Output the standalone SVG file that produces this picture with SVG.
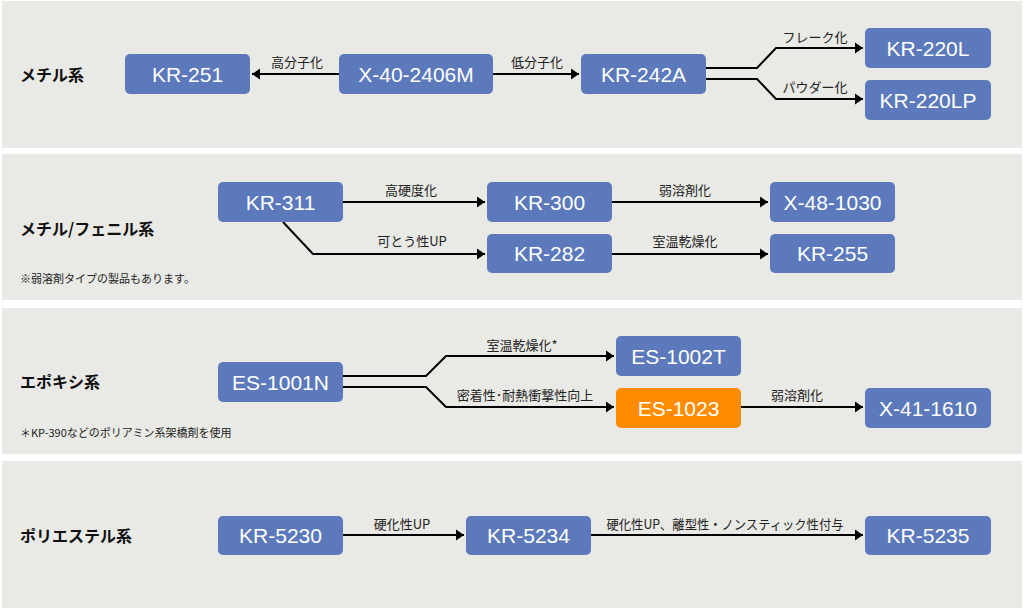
<svg xmlns="http://www.w3.org/2000/svg" width="1024" height="609" viewBox="0 0 1024 609">
<defs>
<style>
.panel{fill:#e9e9e5}
.n rect{fill:#5b79bb;rx:5;ry:5}
.n.o rect{fill:#fe8b00}
.n text{fill:#fff;font-family:"Liberation Sans","Noto Sans",Arial,sans-serif;font-size:21px;text-anchor:middle}
.cat{font-family:"Noto Sans CJK JP","Noto Sans",sans-serif;font-size:16px;font-weight:bold;fill:#111}
.note{font-family:"Noto Sans CJK JP","Noto Sans",sans-serif;font-size:11px;fill:#222}
.lbl{font-family:"Noto Sans CJK JP","Noto Sans",sans-serif;font-size:13px;fill:#222;text-anchor:middle}
.c path{fill:none;stroke:#000;stroke-width:2}
.c path.a{marker-end:url(#ah)}
</style>
<marker id="ah" markerUnits="userSpaceOnUse" markerWidth="9" markerHeight="12" refX="8" refY="6" orient="auto">
<path d="M0,0.5 L8,6 L0,11.5 z" fill="#000"/>
</marker>
</defs>
<rect width="1024" height="609" fill="#fff"/>
<rect class="panel" x="2" y="1" width="1020" height="147"/>
<rect class="panel" x="2" y="154" width="1020" height="146"/>
<rect class="panel" x="2" y="308" width="1020" height="146"/>
<rect class="panel" x="2" y="461" width="1020" height="147"/>

<g id="categories">
<text class="cat" x="20" y="81">メチル系</text>
<text class="cat" x="20" y="235">メチル/フェニル系</text>
<text class="note" x="20" y="283">※弱溶剤タイプの製品もあります。</text>
<text class="cat" x="20" y="388">エポキシ系</text>
<text class="note" x="20" y="437">＊KP-390などのポリアミン系架橋剤を使用</text>
<text class="cat" x="20" y="542">ポリエステル系</text>
</g>

<g id="connectors" class="c">
<path class="a" d="M339,74 H252"/>
<path class="a" d="M493,74 H579"/>
<path d="M706,68 H757 L776,48 H863" class="a"/>
<path d="M706,79 H757 L776,99 H863" class="a"/>
<path class="a" d="M343,202 H485"/>
<path class="a" d="M283,222 L313,254 H485"/>
<path class="a" d="M612,202 H768"/>
<path class="a" d="M612,254 H768"/>
<path class="a" d="M343,376 H426 L446,356 H614"/>
<path class="a" d="M343,387 H426 L446,407 H614"/>
<path class="a" d="M741,407 H863"/>
<path class="a" d="M343,535 H464"/>
<path class="a" d="M591,535 H863"/>
</g>

<g id="labels">
<text class="lbl" x="297" y="67">高分子化</text>
<text class="lbl" x="537" y="67">低分子化</text>
<text class="lbl" x="815" y="42">フレーク化</text>
<text class="lbl" x="815" y="92">パウダー化</text>
<text class="lbl" x="411" y="195">高硬度化</text>
<text class="lbl" x="412" y="246">可とう性UP</text>
<text class="lbl" x="685" y="195">弱溶剤化</text>
<text class="lbl" x="685" y="246">室温乾燥化</text>
<text class="lbl" x="522" y="350">室温乾燥化*</text>
<text class="lbl" x="525" y="400">密着性･耐熱衝撃性向上</text>
<text class="lbl" x="797" y="400">弱溶剤化</text>
<text class="lbl" x="402" y="529">硬化性UP</text>
<text class="lbl" x="725" y="529" textLength="237" lengthAdjust="spacingAndGlyphs">硬化性UP、離型性・ノンスティック性付与</text>
</g>

<g id="KR-251" class="n"><rect x="125" y="54" width="125" height="40"/><text x="187.5" y="82">KR-251</text></g>
<g id="X-40-2406M" class="n"><rect x="339" y="54" width="154" height="40"/><text x="416" y="82">X-40-2406M</text></g>
<g id="KR-242A" class="n"><rect x="581" y="54" width="125" height="40"/><text x="643.5" y="82">KR-242A</text></g>
<g id="KR-220L" class="n"><rect x="865" y="28" width="126" height="40"/><text x="928" y="56">KR-220L</text></g>
<g id="KR-220LP" class="n"><rect x="865" y="80" width="126" height="40"/><text x="928" y="108">KR-220LP</text></g>

<g id="KR-311" class="n"><rect x="218" y="182" width="125" height="40"/><text x="280.5" y="210">KR-311</text></g>
<g id="KR-300" class="n"><rect x="487" y="182" width="125" height="40"/><text x="549.5" y="210">KR-300</text></g>
<g id="KR-282" class="n"><rect x="487" y="234" width="125" height="39"/><text x="549.5" y="261">KR-282</text></g>
<g id="X-48-1030" class="n"><rect x="770" y="182" width="125" height="40"/><text x="832.5" y="210">X-48-1030</text></g>
<g id="KR-255" class="n"><rect x="770" y="234" width="125" height="39"/><text x="832.5" y="261">KR-255</text></g>

<g id="ES-1001N" class="n"><rect x="218" y="362" width="125" height="40"/><text x="280.5" y="390">ES-1001N</text></g>
<g id="ES-1002T" class="n"><rect x="616" y="336" width="125" height="40"/><text x="678.5" y="364">ES-1002T</text></g>
<g id="ES-1023" class="n o"><rect x="616" y="388" width="125" height="40"/><text x="678.5" y="416">ES-1023</text></g>
<g id="X-41-1610" class="n"><rect x="865" y="388" width="126" height="40"/><text x="928" y="416">X-41-1610</text></g>

<g id="KR-5230" class="n"><rect x="218" y="516" width="125" height="39"/><text x="280.5" y="543">KR-5230</text></g>
<g id="KR-5234" class="n"><rect x="466" y="516" width="125" height="39"/><text x="528.5" y="543">KR-5234</text></g>
<g id="KR-5235" class="n"><rect x="865" y="516" width="126" height="39"/><text x="928" y="543">KR-5235</text></g>
</svg>
